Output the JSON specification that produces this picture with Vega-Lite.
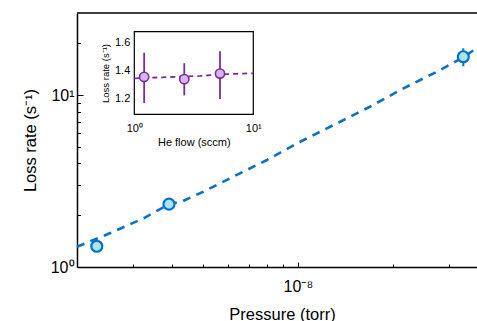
{
  "$schema": "https://vega.github.io/schema/vega-lite/v6.json",
  "width": 400,
  "height": 254,
  "autosize": {"type": "none"},
  "padding": {"left": 77, "top": 13, "right": 0, "bottom": 54},
  "background": "white",
  "config": {
    "view": {"stroke": null},
    "font": "Liberation Sans",
    "axis": {
      "domainColor": "black", "domainWidth": 1.5, "tickColor": "black", "tickWidth": 1,
      "labelColor": "black", "titleColor": "black", "labelFont": "Liberation Sans", "titleFont": "Liberation Sans",
      "titleFontWeight": "normal", "grid": false, "zindex": 1
    }
  },
  "datasets": {
    "fit": [
      {"p": 2.0e-9, "r": 1.312}, {"p": 2.55e-9, "r": 1.576}, {"p": 3.26e-9, "r": 1.927}, {"p": 3.91e-9, "r": 2.32},
      {"p": 4.29e-9, "r": 2.40}, {"p": 5.02e-9, "r": 2.74}, {"p": 5.68e-9, "r": 3.07}, {"p": 6.41e-9, "r": 3.43},
      {"p": 7.98e-9, "r": 4.19}, {"p": 1.017e-8, "r": 5.35},
      {"p": 1.33e-8, "r": 6.85}, {"p": 1.69e-8, "r": 8.55}, {"p": 2.16e-8, "r": 10.94}, {"p": 2.82e-8, "r": 13.97},
      {"p": 3.34e-8, "r": 16.6}, {"p": 3.69e-8, "r": 18.8}
    ],
    "pts": [
      {"p": 2.31e-9, "r": 1.32, "lo": 1.32, "hi": 1.32},
      {"p": 3.91e-9, "r": 2.32, "lo": 2.32, "hi": 2.32},
      {"p": 3.34e-8, "r": 16.7, "lo": 14.7, "hi": 18.7}
    ],
    "top": [{"v": 30}],
    "ifit": [{"f": 1, "r": 1.347}, {"f": 3.56, "r": 1.364}, {"f": 6, "r": 1.377}, {"f": 10, "r": 1.383}],
    "ipts": [
      {"f": 1.21, "r": 1.357, "lo": 1.17, "hi": 1.53},
      {"f": 2.63, "r": 1.341, "lo": 1.225, "hi": 1.455},
      {"f": 5.25, "r": 1.381, "lo": 1.20, "hi": 1.54}
    ],
    "frame": [{"f1": 1, "f2": 10, "r1": 1.09, "r2": 1.68}]
  },
  "layer": [
    {
      "layer": [
        {
          "data": {"name": "top"},
          "mark": {"type": "rule", "color": "black", "strokeWidth": 1.5},
          "encoding": {"y": {"field": "v", "type": "quantitative"}}
        },
        {
          "data": {"name": "fit"},
          "mark": {"type": "line", "color": "#0a72c2", "strokeWidth": 2.6, "strokeDash": [8, 6.5]},
          "encoding": {
            "x": {"field": "p", "type": "quantitative", "scale": {"type": "log", "domain": [2e-9, 3.69e-8], "nice": false},
              "axis": {"orient": "bottom", "title": "Pressure (torr)", "titleFontSize": 16.5, "titlePadding": 12, "titleX": 205,
                "values": [3e-9, 4e-9, 5e-9, 6e-9, 7e-9, 8e-9, 9e-9, 1e-8, 2e-8, 3e-8],
                "labelExpr": "abs(datum.value - 1e-8) < 1e-12 ? '10⁻⁸' : ''",
                "labelFontSize": 16, "labelPadding": 16,
                "tickSize": {"condition": {"test": "datum.value > 9.9e-9 && datum.value < 1.01e-8", "value": -5}, "value": -3}}},
            "y": {"field": "r", "type": "quantitative", "scale": {"type": "log", "domain": [1, 30], "nice": false},
              "axis": {"orient": "left", "title": "Loss rate (s⁻¹)", "titleFontSize": 16.5, "titlePadding": 12,
                "values": [1, 2, 3, 4, 5, 6, 7, 8, 9, 10, 20],
                "labelExpr": "datum.value == 1 ? '10⁰' : datum.value == 10 ? '10¹' : ''",
                "labelFontSize": 16, "labelPadding": 9,
                "tickSize": {"condition": {"test": "(datum.value > 0.99 && datum.value < 1.01) || (datum.value > 9.9 && datum.value < 10.1)", "value": -6}, "value": -3.5}}}
          }
        },
        {
          "data": {"name": "pts"},
          "mark": {"type": "rule", "color": "#0a72c2", "strokeWidth": 2},
          "encoding": {
            "x": {"field": "p", "type": "quantitative"},
            "y": {"field": "lo", "type": "quantitative"},
            "y2": {"field": "hi"}
          }
        },
        {
          "data": {"name": "pts"},
          "mark": {"type": "point", "shape": "circle", "filled": false, "fill": "#a8e5fa", "fillOpacity": 1, "stroke": "#0a72c2", "strokeWidth": 2.2, "size": 120, "opacity": 1},
          "encoding": {
            "x": {"field": "p", "type": "quantitative"},
            "y": {"field": "r", "type": "quantitative"}
          }
        }
      ]
    },
    {
      "layer": [
        {
          "data": {"name": "frame"},
          "mark": {"type": "rect", "fill": "white", "stroke": "black", "strokeWidth": 1.2},
          "encoding": {
            "x": {"field": "f1", "type": "quantitative", "scale": {"type": "log", "domain": [1, 10], "range": [57.3, 176.3], "nice": false},
              "axis": {"orient": "bottom", "offset": -152.7, "title": "He flow (sccm)", "titleFontSize": 11, "titlePadding": 3,
                "values": [1, 2, 3, 4, 5, 6, 7, 8, 9, 10], "domain": false,
                "labelExpr": "datum.value == 1 ? '10⁰' : datum.value == 10 ? '10¹' : ''",
                "labelFontSize": 11, "labelPadding": 11, "labelFlush": false, "labelOverlap": false,
                "tickSize": -2.5}},
            "x2": {"field": "f2"},
            "y": {"field": "r1", "type": "quantitative", "scale": {"domain": [1.09, 1.68], "range": [101.3, 18.7], "nice": false, "zero": false},
              "axis": {"orient": "left", "offset": -57.3, "title": "Loss rate (s⁻¹)", "titleFontSize": 9.5, "titlePadding": 4,
                "values": [1.2, 1.4, 1.6], "domain": false, "format": ".1f",
                "labelFontSize": 11, "labelPadding": 8, "tickSize": -3.5}},
            "y2": {"field": "r2"}
          }
        },
        {
          "data": {"name": "ifit"},
          "mark": {"type": "line", "color": "#7b2d91", "strokeWidth": 1.8, "strokeDash": [5, 4]},
          "encoding": {
            "x": {"field": "f", "type": "quantitative"},
            "y": {"field": "r", "type": "quantitative"}
          }
        },
        {
          "data": {"name": "ipts"},
          "mark": {"type": "rule", "color": "#7b2d91", "strokeWidth": 1.8},
          "encoding": {
            "x": {"field": "f", "type": "quantitative"},
            "y": {"field": "lo", "type": "quantitative"},
            "y2": {"field": "hi"}
          }
        },
        {
          "data": {"name": "ipts"},
          "mark": {"type": "point", "shape": "circle", "filled": false, "fill": "#d8b4f2", "fillOpacity": 1, "stroke": "#7b2d91", "strokeWidth": 1.6, "size": 85, "opacity": 1},
          "encoding": {
            "x": {"field": "f", "type": "quantitative"},
            "y": {"field": "r", "type": "quantitative"}
          }
        }
      ]
    }
  ],
  "resolve": {"scale": {"x": "independent", "y": "independent"}, "axis": {"x": "independent", "y": "independent"}}
}
